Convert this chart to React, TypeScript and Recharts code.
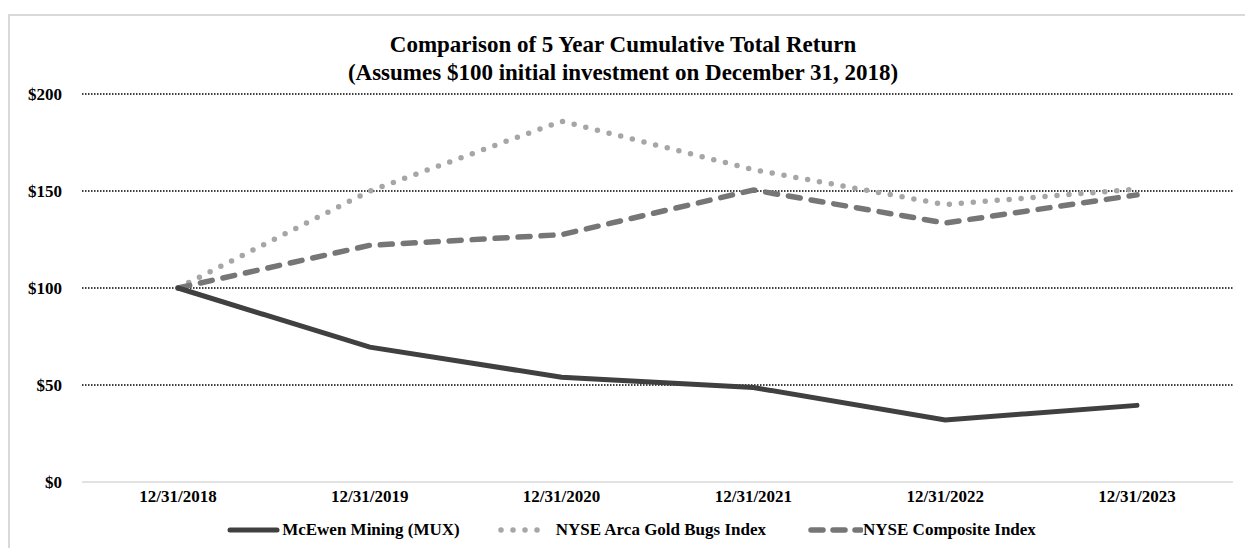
import React from "react";
import { LineChart, Line, XAxis, YAxis, CartesianGrid, Legend } from "recharts";

const categories = ["12/31/2018", "12/31/2019", "12/31/2020", "12/31/2021", "12/31/2022", "12/31/2023"];
const muxValues = [100, 69.5, 54, 48.7, 32, 39.5];
const goldBugsValues = [100, 150, 186, 161, 143, 151];
const nyseValues = [100, 122, 127.5, 150.5, 133.5, 148];
const yTicks = [0, 50, 100, 150, 200];
const gridValues = [50, 100, 150, 200];
const bandTicks = [0, 1, 2, 3, 4, 5, 6];

const seriesNames = {
  mux: "McEwen Mining (MUX)",
  gold: "NYSE Arca Gold Bugs Index",
  nyse: "NYSE Composite Index",
};

const data = categories.map((c, i) => ({
  date: c,
  mux: muxValues[i],
  gold: goldBugsValues[i],
  nyse: nyseValues[i],
}));

const FONT = '"Liberation Serif", "Times New Roman", serif';

const styles = {
  mux: { stroke: "#404040", width: 5, dash: undefined as string | undefined },
  gold: { stroke: "#a6a6a6", width: 5.5, dash: "0 12" },
  nyse: { stroke: "#767676", width: 5.5, dash: "12 11" },
};

const LegendContent = () => {
  const items: Array<keyof typeof styles> = ["mux", "gold", "nyse"];
  return (
    <div
      style={{
        display: "flex",
        justifyContent: "center",
        alignItems: "center",
        height: 34,
        boxSizing: "border-box",
        paddingTop: 6,
        paddingLeft: 20,
        fontFamily: FONT,
        fontWeight: "bold",
        fontSize: 17,
        color: "#000",
        whiteSpace: "nowrap",
      }}
    >
      {items.map((k, idx) => (
        <div key={k} style={{ display: "flex", alignItems: "center", marginLeft: idx === 0 ? 0 : idx === 1 ? 38 : 42 }}>
          <svg width={55} height={10} style={{ display: "block" }}>
            <line
              x1={3}
              y1={5}
              x2={k === "gold" ? 40 : k === "nyse" ? 53 : 50}
              y2={5}
              stroke={styles[k].stroke}
              strokeWidth={styles[k].width}
              strokeDasharray={k === "gold" ? "0 12" : k === "nyse" ? "12 10" : undefined}
              strokeLinecap="round"
            />
          </svg>
          <span style={{ marginLeft: k === "gold" ? 3 : 0 }}>{seriesNames[k]}</span>
        </div>
      ))}
    </div>
  );
};

export default function App() {
  return (
    <div
      style={{
        position: "fixed",
        left: 8,
        top: 14,
        width: 1250,
        height: 545,
        borderTop: "2px solid #d9d9d9",
        borderLeft: "2px solid #d9d9d9",
        background: "#fff",
      }}
    >
      <div
        style={{
          position: "absolute",
          left: 0,
          top: 15,
          width: 1226,
          textAlign: "center",
          fontFamily: FONT,
          fontWeight: "bold",
          fontSize: 23,
          lineHeight: "28px",
          color: "#000",
        }}
      >
        <div>Comparison of 5 Year Cumulative Total Return</div>
        <div>(Assumes $100 initial investment on December 31, 2018)</div>
      </div>
      <LineChart
        width={1235}
        height={530}
        data={data}
        margin={{ top: 78, right: 12, left: 0, bottom: 2 }}
      >
        <CartesianGrid
          vertical={false}
          horizontalValues={gridValues}
          stroke="#000"
          strokeWidth={1.3}
          strokeDasharray="1.5 1.5"
        />
        <XAxis
          xAxisId="bands"
          type="number"
          domain={[0, 6]}
          ticks={bandTicks}
          allowDataOverflow
          tick={false}
          axisLine={false}
          tickLine={{ stroke: "#d9d9d9" }}
          tickSize={5}
          mirror
          height={0}
        />
        <XAxis
          dataKey="date"
          tickLine={false}
          axisLine={{ stroke: "#d9d9d9", strokeWidth: 1.5 }}
          tickSize={6}
          tickMargin={2}
          height={28}
          interval={0}
          padding={{ left: 96, right: 96 }}
          tick={{ fontFamily: FONT, fontWeight: "bold", fontSize: 17, fill: "#000" }}
        />
        <YAxis
          domain={[0, 200]}
          ticks={yTicks}
          width={72}
          axisLine={false}
          tickLine={false}
          tickSize={6}
          tickMargin={14}
          tickFormatter={(v: number) => `$${v}`}
          tick={{ fontFamily: FONT, fontWeight: "bold", fontSize: 17, fill: "#000" }}
        />
        <Legend verticalAlign="bottom" content={<LegendContent />} />
        <Line
          dataKey="gold"
          name={seriesNames.gold}
          stroke={styles.gold.stroke}
          strokeWidth={styles.gold.width}
          strokeDasharray={styles.gold.dash}
          strokeLinecap="round"
          dot={false}
          activeDot={false}
          isAnimationActive={false}
        />
        <Line
          dataKey="nyse"
          name={seriesNames.nyse}
          stroke={styles.nyse.stroke}
          strokeWidth={styles.nyse.width}
          strokeDasharray={styles.nyse.dash}
          strokeLinecap="round"
          dot={false}
          activeDot={false}
          isAnimationActive={false}
        />
        <Line
          dataKey="mux"
          name={seriesNames.mux}
          stroke={styles.mux.stroke}
          strokeWidth={styles.mux.width}
          strokeLinecap="round"
          dot={false}
          activeDot={false}
          isAnimationActive={false}
        />
      </LineChart>
    </div>
  );
}
